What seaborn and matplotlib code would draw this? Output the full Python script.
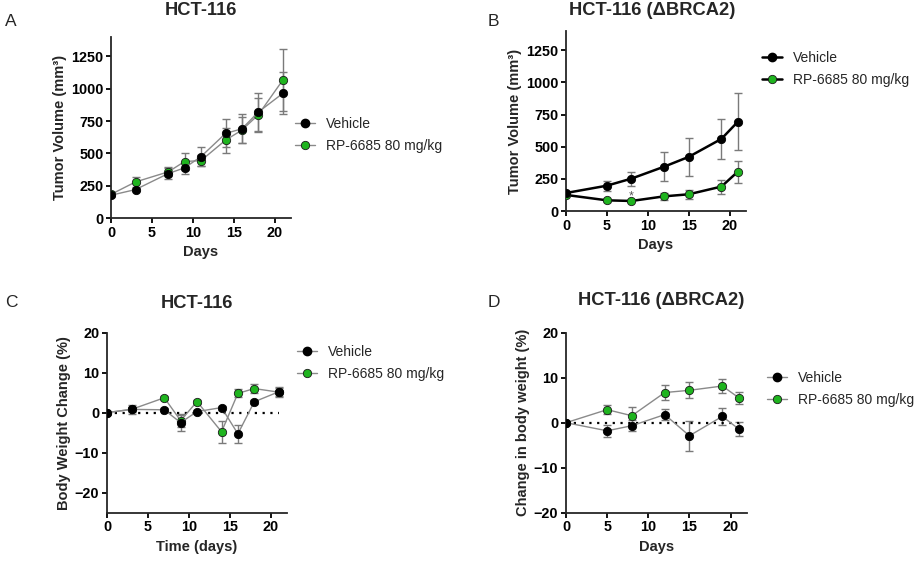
import numpy as np
import pandas as pd
import matplotlib
matplotlib.use("Agg")
import matplotlib.pyplot as plt
from matplotlib.lines import Line2D
import seaborn as sns

# ---------------- data ----------------
# Panel A: HCT-116 tumor volume
a_days = [0, 3, 7, 9, 11, 14, 16, 18, 21]
a_veh = [176, 220, 344, 388, 475, 654, 690, 819, 964]
a_veh_sem = [12, 15, 40, 44, 73, 108, 111, 150, 163]
a_rp = [183, 279, 357, 437, 444, 602, 680, 798, 1067]
a_rp_sem = [12, 36, 35, 67, 40, 98, 103, 127, 238]

# Panel B: HCT-116 (dBRCA2) tumor volume
b_days = [0, 5, 8, 12, 15, 19, 21]
b_veh = [140, 197, 252, 345, 421, 561, 694]
b_veh_sem = [10, 39, 54, 112, 150, 158, 223]
b_rp = [125, 83, 78, 114, 130, 190, 306]
b_rp_sem = [8, 10, 10, 29, 36, 54, 86]

# Panel C: HCT-116 body weight change
c_days = [0, 3, 7, 9, 11, 14, 16, 18, 21]
c_veh = [0, 0.8, 0.7, -2.5, 0.25, 1.25, -5.3, 2.7, 5.2]
c_veh_sem = [0, 1.2, 0.4, 2.1, 0.4, 0.5, 2.2, 0.5, 1.1]
c_rp = [0, 0.8, 3.7, -2.0, 2.75, -4.8, 4.8, 6.0, 5.1]
c_rp_sem = [0, 0.6, 0.5, 1.5, 0.5, 2.8, 1.0, 1.1, 1.1]

# Panel D: HCT-116 (dBRCA2) body weight change
d_days = [0, 5, 8, 12, 15, 19, 21]
d_veh = [0, -1.8, -0.67, 1.8, -2.9, 1.4, -1.4]
d_veh_sem = [0, 1.3, 1.2, 1.3, 3.3, 1.9, 1.5]
d_rp = [0, 2.9, 1.55, 6.7, 7.2, 8.15, 5.55]
d_rp_sem = [0, 1.0, 1.85, 1.6, 1.8, 1.5, 1.3]

labels = ["Vehicle", "RP-6685 80 mg/kg"]
titles = ["HCT-116", "HCT-116 (ΔBRCA2)", "HCT-116", "HCT-116 (ΔBRCA2)"]
ylabels = ["Tumor Volume (mm³)", "Tumor Volume (mm³)",
           "Body Weight Change (%)", "Change in body weight (%)"]
xlabels = ["Days", "Days", "Time (days)", "Days"]

GREEN = "#1fb41f"
GRAY = "#8a8a8a"
ERR = "#7a7a7a"

sns.set_theme(style="ticks")
plt.rcParams["font.family"] = ["Liberation Sans", "DejaVu Sans"]
plt.rcParams["axes.linewidth"] = 1.3
plt.rcParams["xtick.major.width"] = 1.3
plt.rcParams["ytick.major.width"] = 1.3
plt.rcParams["xtick.major.size"] = 3.5
plt.rcParams["ytick.major.size"] = 3.5

W, H = 924, 562
fig = plt.figure(figsize=(W / 100, H / 100), dpi=100)


def add_ax(l, r, t, b):
    return fig.add_axes([l / W, 1 - b / H, (r - l) / W, (b - t) / H])


axA = add_ax(111, 291, 37, 218)
axB = add_ax(566, 746, 31, 211)
axC = add_ax(107, 287, 332.5, 512.7)
axD = add_ax(566, 747, 332.7, 512.7)

panels = [
    (axA, a_days, a_veh, a_veh_sem, a_rp, a_rp_sem, GRAY, 1.0),
    (axB, b_days, b_veh, b_veh_sem, b_rp, b_rp_sem, "black", 1.8),
    (axC, c_days, c_veh, c_veh_sem, c_rp, c_rp_sem, GRAY, 1.0),
    (axD, d_days, d_veh, d_veh_sem, d_rp, d_rp_sem, GRAY, 1.0),
]

title_pos = [(201, 15), (652, 15), (197, 308), (661, 305)]

for i, (ax, days, veh, vs, rp, rs, lc, lw) in enumerate(panels):
    # error bars behind
    ax.errorbar(days, rp, yerr=rs, fmt="none", ecolor=ERR, elinewidth=1,
                capsize=3, capthick=1, zorder=1)
    ax.errorbar(days, veh, yerr=vs, fmt="none", ecolor=ERR, elinewidth=1,
                capsize=3, capthick=1, zorder=1)
    sns.lineplot(x=days, y=rp, ax=ax, color=lc, linewidth=lw, marker="o",
                 markersize=6, markerfacecolor=GREEN, markeredgecolor="#1a1a1a",
                 markeredgewidth=0.6, legend=False, zorder=3)
    sns.lineplot(x=days, y=veh, ax=ax, color=lc, linewidth=lw, marker="o",
                 markersize=6, markerfacecolor="black", markeredgecolor="black",
                 markeredgewidth=0.6, legend=False, zorder=4)
    ax.set_xlim(0, 22)
    ax.set_xticks([0, 5, 10, 15, 20])
    tx, ty = title_pos[i]
    fig.text(tx / W, 1 - ty / H, titles[i], fontsize=13.2, fontweight="bold",
             ha="center", va="baseline")
    ax.set_xlabel(xlabels[i], fontsize=10.5, fontweight="bold", labelpad=4)
    ax.set_ylabel(ylabels[i], fontsize=10.5, fontweight="bold", labelpad=3)
    for lab in ax.get_xticklabels() + ax.get_yticklabels():
        lab.set_fontweight("bold")
        lab.set_fontsize(10.4)
    ax.tick_params(axis="both", pad=2, colors="black")
    sns.despine(ax=ax)

for ax in (axA, axB):
    ax.set_ylim(0, 1400)
    ax.set_yticks([0, 250, 500, 750, 1000, 1250])
axC.set_ylim(-25, 20)
axC.set_yticks([-20, -10, 0, 10, 20])
axD.set_ylim(-20, 20)
axD.set_yticks([-20, -10, 0, 10, 20])

for ax in (axC, axD):
    ax.plot([0, 21], [0, 0], linestyle=(0, (1, 2.5)), color="black",
            linewidth=1.6, zorder=2)

axB.text(8, 92, "*", ha="center", va="baseline", fontsize=9, color="#555555")

# ---------------- legends ----------------
def legend_at(x_px, y_px, lc, lw):
    handles = [
        Line2D([], [], color=lc, linewidth=lw, marker="o", markersize=6,
               markerfacecolor="black", markeredgecolor="black"),
        Line2D([], [], color=lc, linewidth=lw, marker="o", markersize=6,
               markerfacecolor=GREEN, markeredgecolor="#1a1a1a", markeredgewidth=0.6),
    ]
    fig.legend(handles, labels, loc="upper left",
               bbox_to_anchor=(x_px / W, 1 - y_px / H), frameon=False,
               fontsize=10, handlelength=1.45, handletextpad=0.8,
               labelspacing=0.55, borderpad=0, borderaxespad=0)

legend_at(295, 117, GRAY, 1.0)
legend_at(762, 51, "black", 1.8)
legend_at(297, 345, GRAY, 1.0)
legend_at(767, 371, GRAY, 1.0)

# panel letters
for letter, (x, y) in zip("ABCD", [(5, 26), (488, 26), (5, 307), (488, 307)]):
    fig.text(x / W, 1 - y / H, letter, fontsize=12.5, ha="left", va="baseline")

fig.savefig("out.png", dpi=100, facecolor="white")
